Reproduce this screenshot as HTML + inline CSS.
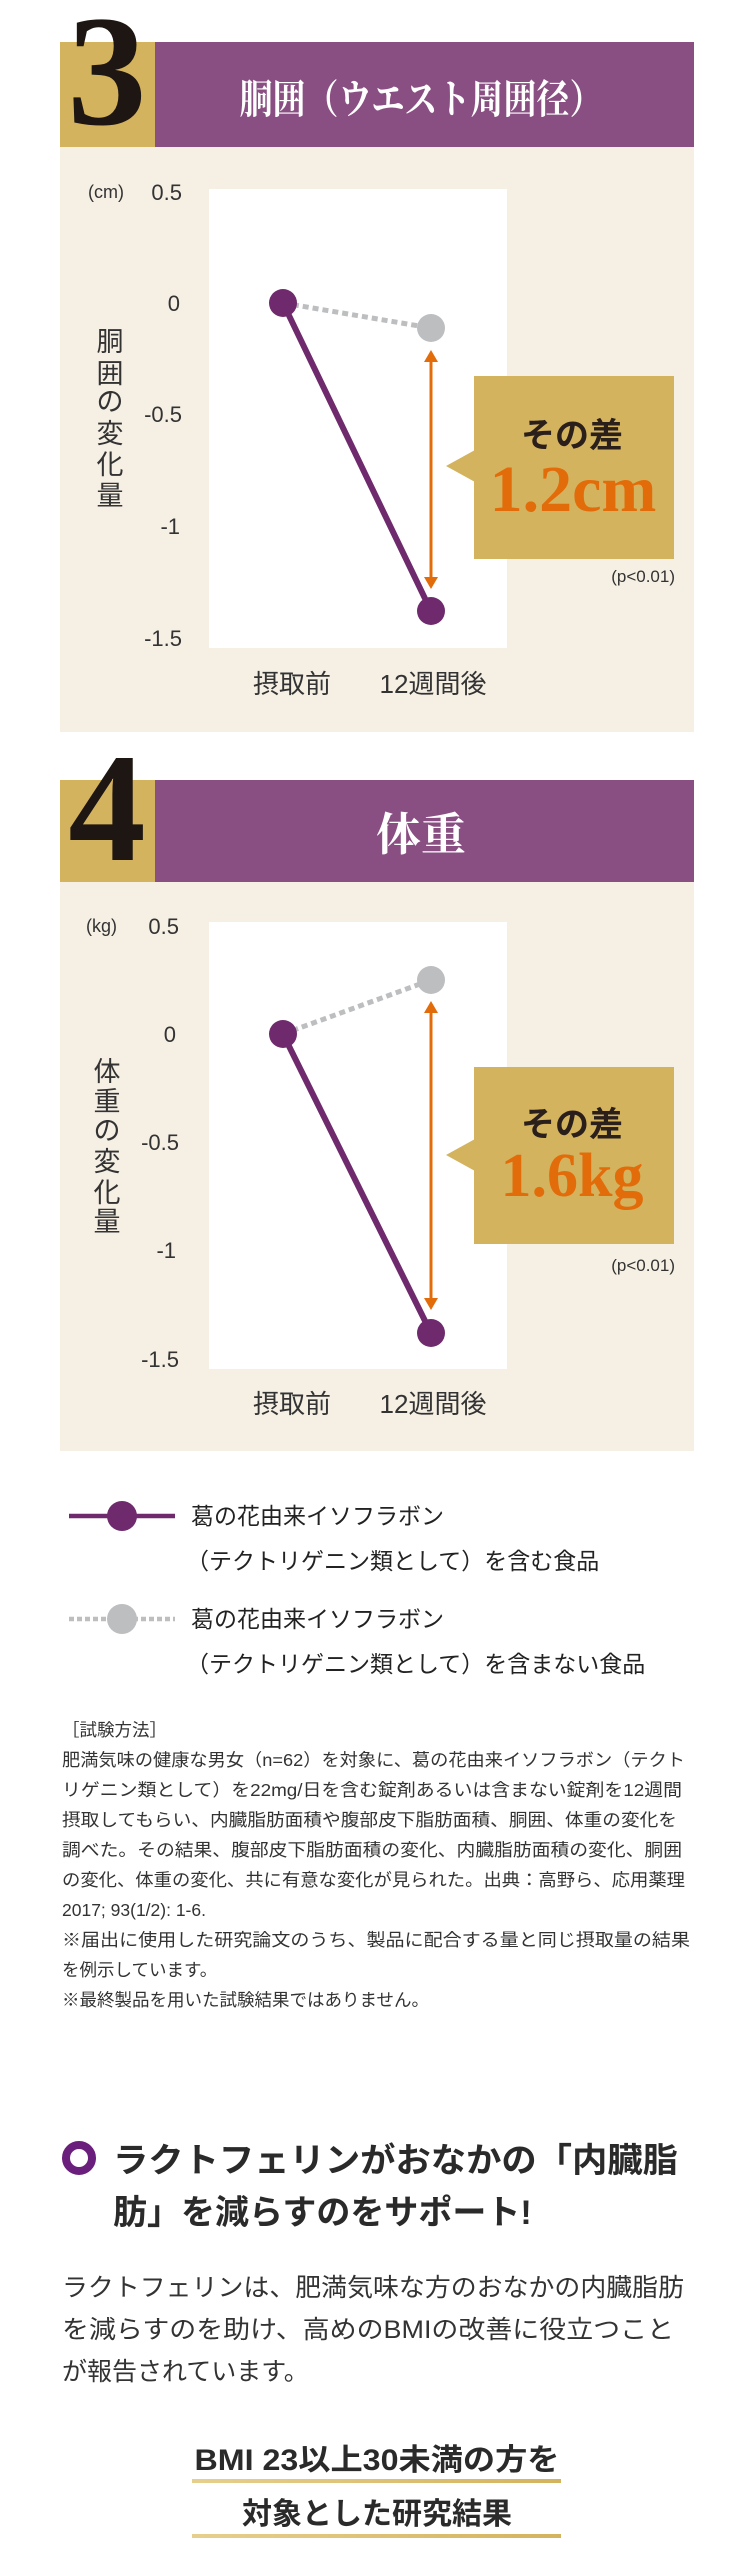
<!DOCTYPE html>
<html><head><meta charset="utf-8"><style>
html,body{margin:0;padding:0;background:#fff;}
svg{display:block;}
.s{font-family:"Liberation Sans","Noto Sans CJK JP",sans-serif;}
.j{font-family:"Liberation Sans","Noto Sans CJK JP",sans-serif;}
.sf{font-family:"Liberation Serif","Noto Serif CJK SC",serif;}
</style></head><body>
<svg width="750" height="2558" viewBox="0 0 750 2558" xmlns="http://www.w3.org/2000/svg">
<!-- Section 3 -->
<rect x="60" y="42" width="95" height="105" fill="#d4b35e"/>
<rect x="155" y="42" width="539" height="105" fill="#8a4f82"/>
<rect x="60" y="147" width="634" height="585" fill="#f5efe4"/>
<text x="107" y="124" class="sf" font-size="158" font-weight="bold" fill="#1e1612" text-anchor="middle">3</text>
<text x="421" y="113" class="sf" font-size="40" font-weight="bold" fill="#fff" text-anchor="middle" textLength="363" lengthAdjust="spacingAndGlyphs">胴囲（ウエスト周囲径）</text>
<rect x="209" y="189" width="298" height="459" fill="#fff"/>
<g class="s" font-size="22" fill="#333" text-anchor="end">
<text x="182" y="200">0.5</text><text x="180" y="311">0</text><text x="182" y="422">-0.5</text><text x="180" y="534">-1</text><text x="182" y="646">-1.5</text>
</g>
<text x="88" y="198" class="s" font-size="18" fill="#333">(cm)</text>
<g class="j" font-size="27" fill="#333" text-anchor="middle">
<text x="110" y="351">胴</text><text x="110" y="383">囲</text><text x="110" y="411">の</text><text x="110" y="443">変</text><text x="110" y="474">化</text><text x="110" y="505">量</text>
</g>
<line x1="283" y1="303" x2="431" y2="328" stroke="#bcbec0" stroke-width="5" stroke-dasharray="6,4"/>
<line x1="283" y1="303" x2="431" y2="611" stroke="#6e2a6c" stroke-width="6"/>
<circle cx="283" cy="303" r="14" fill="#6e2a6c"/>
<circle cx="431" cy="328" r="14" fill="#bcbec0"/>
<circle cx="431" cy="611" r="14" fill="#6e2a6c"/>
<line x1="431" y1="358" x2="431" y2="580" stroke="#e36c0a" stroke-width="3"/>
<polygon points="431,350 424,362 438,362" fill="#e36c0a"/>
<polygon points="431,589 424,577 438,577" fill="#e36c0a"/>
<rect x="474" y="376" width="200" height="183" fill="#d4b35e"/>
<polygon points="446,466 475,450 475,482" fill="#d4b35e"/>
<text x="572" y="447" class="j" font-size="34" font-weight="bold" fill="#2a1f1a" text-anchor="middle">その差</text>
<text x="573" y="511" class="sf" font-size="66" font-weight="bold" fill="#e36c0a" text-anchor="middle">1.2cm</text>
<text x="675" y="582" class="s" font-size="17" fill="#333" text-anchor="end">(p&lt;0.01)</text>
<g class="j" font-size="26" fill="#333" text-anchor="middle">
<text x="292" y="693">摂取前</text><text x="433" y="693">12週間後</text>
</g>

<!-- Section 4 -->
<rect x="60" y="780" width="95" height="102" fill="#d4b35e"/>
<rect x="155" y="780" width="539" height="102" fill="#8a4f82"/>
<rect x="60" y="882" width="634" height="569" fill="#f5efe4"/>
<text x="107" y="860" class="sf" font-size="155" font-weight="bold" fill="#1e1612" text-anchor="middle">4</text>
<text x="421" y="850" class="sf" font-size="45" font-weight="bold" fill="#fff" text-anchor="middle">体重</text>
<rect x="209" y="922" width="298" height="447" fill="#fff"/>
<g class="s" font-size="22" fill="#333" text-anchor="end">
<text x="179" y="934">0.5</text><text x="176" y="1042">0</text><text x="179" y="1150">-0.5</text><text x="176" y="1258">-1</text><text x="179" y="1367">-1.5</text>
</g>
<text x="86" y="932" class="s" font-size="18" fill="#333">(kg)</text>
<g class="j" font-size="27" fill="#333" text-anchor="middle">
<text x="107" y="1081">体</text><text x="107" y="1111">重</text><text x="107" y="1140">の</text><text x="107" y="1171">変</text><text x="107" y="1202">化</text><text x="107" y="1231">量</text>
</g>
<line x1="283" y1="1034" x2="431" y2="980" stroke="#bcbec0" stroke-width="5" stroke-dasharray="6,4"/>
<line x1="283" y1="1034" x2="431" y2="1333" stroke="#6e2a6c" stroke-width="6"/>
<circle cx="283" cy="1034" r="14" fill="#6e2a6c"/>
<circle cx="431" cy="980" r="14" fill="#bcbec0"/>
<circle cx="431" cy="1333" r="14" fill="#6e2a6c"/>
<line x1="431" y1="1009" x2="431" y2="1301" stroke="#e36c0a" stroke-width="3"/>
<polygon points="431,1001 424,1013 438,1013" fill="#e36c0a"/>
<polygon points="431,1310 424,1298 438,1298" fill="#e36c0a"/>
<rect x="474" y="1067" width="200" height="177" fill="#d4b35e"/>
<polygon points="446,1155 475,1139 475,1171" fill="#d4b35e"/>
<text x="572" y="1136" class="j" font-size="34" font-weight="bold" fill="#2a1f1a" text-anchor="middle">その差</text>
<text x="572" y="1196" class="sf" font-size="62" font-weight="bold" fill="#e36c0a" text-anchor="middle">1.6kg</text>
<text x="675" y="1271" class="s" font-size="17" fill="#333" text-anchor="end">(p&lt;0.01)</text>
<g class="j" font-size="26" fill="#333" text-anchor="middle">
<text x="292" y="1413">摂取前</text><text x="433" y="1413">12週間後</text>
</g>

<!-- Legend -->
<line x1="69" y1="1516" x2="175" y2="1516" stroke="#6e2a6c" stroke-width="4.5"/>
<ellipse cx="122" cy="1516" rx="15" ry="15" fill="#6e2a6c"/>
<line x1="69" y1="1619" x2="175" y2="1619" stroke="#bcbec0" stroke-width="4.5" stroke-dasharray="5,3"/>
<ellipse cx="122" cy="1619" rx="15" ry="15" fill="#bcbec0"/>
<g class="j" font-size="23" fill="#222">
<text x="191" y="1524">葛の花由来イソフラボン</text>
<text x="186" y="1569">（テクトリゲニン類として）を含む食品</text>
<text x="191" y="1627">葛の花由来イソフラボン</text>
<text x="186" y="1672">（テクトリゲニン類として）を含まない食品</text>
</g>
<!-- Notes -->
<g class="j" font-size="17.5" fill="#333">
<text x="62" y="1736">［試験方法］</text>
<text x="62" y="1766" textLength="623" lengthAdjust="spacingAndGlyphs">肥満気味の健康な男女（n=62）を対象に、葛の花由来イソフラボン（テクト</text>
<text x="62" y="1796" textLength="620" lengthAdjust="spacingAndGlyphs">リゲニン類として）を22mg/日を含む錠剤あるいは含まない錠剤を12週間</text>
<text x="62" y="1826" textLength="615" lengthAdjust="spacingAndGlyphs">摂取してもらい、内臓脂肪面積や腹部皮下脂肪面積、胴囲、体重の変化を</text>
<text x="62" y="1856" textLength="620" lengthAdjust="spacingAndGlyphs">調べた。その結果、腹部皮下脂肪面積の変化、内臓脂肪面積の変化、胴囲</text>
<text x="62" y="1886" textLength="623" lengthAdjust="spacingAndGlyphs">の変化、体重の変化、共に有意な変化が見られた。出典：高野ら、応用薬理</text>
<text x="62" y="1916">2017; 93(1/2): 1-6.</text>
<text x="62" y="1946" textLength="628" lengthAdjust="spacingAndGlyphs">※届出に使用した研究論文のうち、製品に配合する量と同じ摂取量の結果</text>
<text x="62" y="1976">を例示しています。</text>
<text x="62" y="2006">※最終製品を用いた試験結果ではありません。</text>
</g>
<!-- Heading -->
<circle cx="79" cy="2158" r="13" fill="none" stroke="#6b1f7c" stroke-width="8"/>
<g class="j" font-size="34" font-weight="bold" fill="#2a2a2a">
<text x="113" y="2172" textLength="565" lengthAdjust="spacingAndGlyphs">ラクトフェリンがおなかの「内臓脂</text>
<text x="113" y="2224">肪」を減らすのをサポート!</text>
</g>
<g class="j" font-size="25" fill="#333">
<text x="62" y="2296" textLength="622" lengthAdjust="spacingAndGlyphs">ラクトフェリンは、肥満気味な方のおなかの内臓脂肪</text>
<text x="62" y="2338" textLength="612" lengthAdjust="spacingAndGlyphs">を減らすのを助け、高めのBMIの改善に役立つこと</text>
<text x="62" y="2380">が報告されています。</text>
</g>
<defs><linearGradient id="g" x1="0" x2="1"><stop offset="0" stop-color="#e6cf8e"/><stop offset="1" stop-color="#d4b35e"/></linearGradient></defs>
<g class="j" font-size="30" font-weight="bold" fill="#2a2a2a" text-anchor="middle">
<text x="377" y="2470" textLength="365" lengthAdjust="spacingAndGlyphs">BMI 23以上30未満の方を</text>
<text x="377" y="2524">対象とした研究結果</text>
</g>
<rect x="192" y="2479" width="369" height="4" fill="url(#g)"/>
<rect x="192" y="2534" width="369" height="4" fill="url(#g)"/>
</svg>
</body></html>
